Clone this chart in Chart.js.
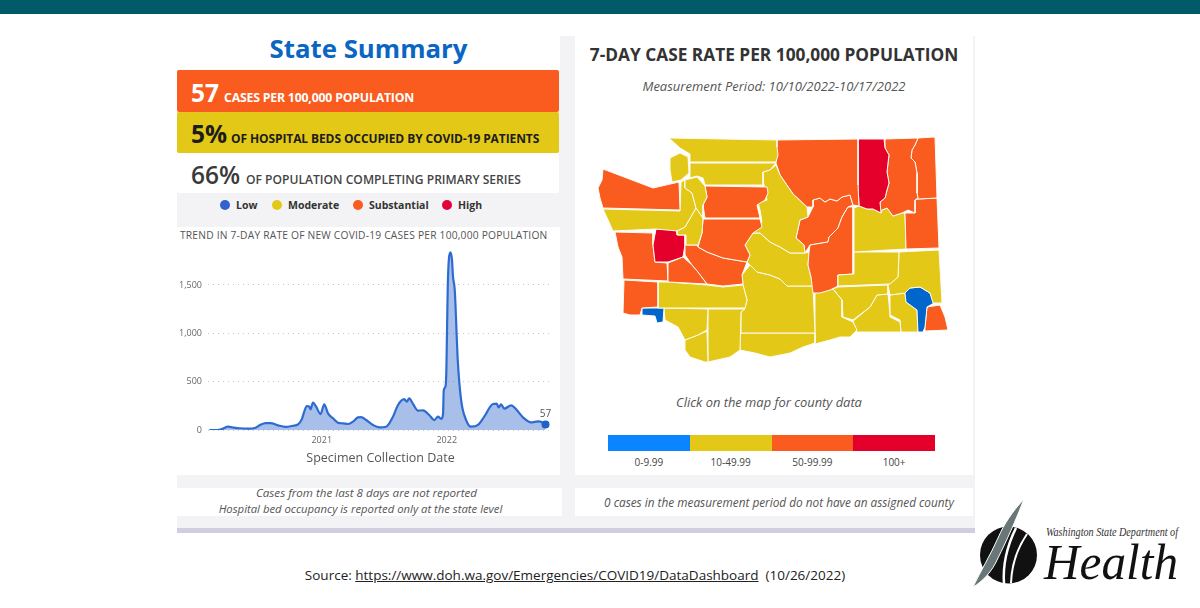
<!DOCTYPE html>
<html lang="en">
<head>
<meta charset="utf-8">
<title>State Summary</title>
<script src="https://cdn.jsdelivr.net/npm/chart.js@4"></script>
<style>
    html, body { margin: 0; width: 1200px; height: 608px; overflow: hidden; background: #fff; }
    body { position: relative; font-family: "Open Sans", sans-serif; color: #333; }
    .box, .txt, canvas, svg { position: absolute; display: block; }
    .txt { white-space: nowrap; line-height: 1; }
    .dot { position: absolute; width: 10px; height: 10px; border-radius: 50%; }
    .it { font-style: italic; color: #555; }
    .big { font-weight: 700; font-size: 24.5px; }
    .cap { font-weight: 700; font-size: 12px; }
</style>
</head>
<body>
<div class="box" style="left:0;top:0;width:1200px;height:14px;background:#005a68"></div>
<div class="box" style="left:177px;top:36px;width:798px;height:493px;background:#f3f2f4"></div>
<div class="box" style="left:177px;top:528px;width:798px;height:5px;background:#d0cfe0"></div>

<!-- left column -->
<div class="box" style="left:177px;top:36px;width:383px;height:34px;background:#fff"></div>
<div class="txt" style="left:177px;width:383px;top:36px;text-align:center;font-size:25.8px;font-weight:700;color:#0a66c2">State Summary</div>
<div class="box" style="left:177px;top:70px;width:382px;height:42px;background:#fa5b1e;border-radius:2px"></div>
<div class="box" style="left:177px;top:112px;width:382px;height:41px;background:#e3c817;border-radius:2px"></div>
<div class="box" style="left:177px;top:153px;width:382px;height:40px;background:#fff;border-radius:2px"></div>
<div class="txt big" style="left:191px;top:81px;color:#fff">57</div>
<div class="txt cap" style="left:224px;top:92px;color:#fff;font-size:12.3px;letter-spacing:-.2px">CASES PER 100,000 POPULATION</div>
<div class="txt big" style="left:191px;top:122px;color:#1c1c1c">5%</div>
<div class="txt cap" style="left:231px;top:133px;color:#1c1c1c;letter-spacing:-.1px">OF HOSPITAL BEDS OCCUPIED BY COVID-19 PATIENTS</div>
<div class="txt big" style="left:191px;top:163px;color:#3a3a3a;font-weight:600">66%</div>
<div class="txt cap" style="left:246px;top:174px;color:#444;font-weight:600;font-size:12.1px">OF POPULATION COMPLETING PRIMARY SERIES</div>

<div class="dot" style="left:220px;top:200px;background:#3560cf"></div>
<div class="txt" style="left:236px;top:200px;font-size:10.5px;font-weight:700">Low</div>
<div class="dot" style="left:272px;top:200px;background:#e3c817"></div>
<div class="txt" style="left:288px;top:200px;font-size:10.5px;font-weight:700">Moderate</div>
<div class="dot" style="left:353px;top:200px;background:#fa5b1e"></div>
<div class="txt" style="left:369px;top:200px;font-size:10.5px;font-weight:700">Substantial</div>
<div class="dot" style="left:442px;top:200px;background:#e4003a"></div>
<div class="txt" style="left:458px;top:200px;font-size:10.5px;font-weight:700">High</div>

<div class="box" style="left:177px;top:227px;width:383px;height:248px;background:#fff"></div>
<div class="txt" style="left:180px;top:230px;font-size:10.25px;color:#555;letter-spacing:.2px">TREND IN 7-DAY RATE OF NEW COVID-19 CASES PER 100,000 POPULATION</div>
<canvas id="trendChart" width="383" height="248" style="left:177px;top:227px"></canvas>

<div class="box" style="left:177px;top:488px;width:385px;height:28px;background:#fff"></div>
<div class="txt it" style="left:175px;width:383px;top:487px;text-align:center;font-size:11.6px">Cases from the last 8 days are not reported</div>
<div class="txt it" style="left:169px;width:383px;top:503px;text-align:center;font-size:11.3px">Hospital bed occupancy is reported only at the state level</div>

<!-- right column -->
<div class="box" style="left:575px;top:36px;width:398px;height:439px;background:#fff"></div>
<div class="txt" style="left:575px;width:398px;top:46px;text-align:center;font-size:17.3px;font-weight:700;color:#333">7-DAY CASE RATE PER 100,000 POPULATION</div>
<div class="txt it" style="left:575px;width:398px;top:80px;text-align:center;font-size:13px">Measurement Period: 10/10/2022-10/17/2022</div>
<canvas id="mapChart" width="365" height="240" style="left:590px;top:130px"></canvas>
<div class="txt it" style="left:570px;width:398px;top:396px;text-align:center;font-size:12.9px">Click on the map for county data</div>
<div id="bandKey"></div>

<div class="box" style="left:575px;top:488px;width:398px;height:28px;background:#fff"></div>
<div class="txt it" style="left:580px;width:398px;top:497px;text-align:center;font-size:11.8px">0 cases in the measurement period do not have an assigned county</div>

<div class="txt" style="left:0;width:1150px;top:569px;text-align:center;font-size:13.5px;color:#222">Source: <u>https://www.doh.wa.gov/Emergencies/COVID19/DataDashboard</u>&nbsp; (10/26/2022)</div>

<!-- department mark and wordmark -->
<svg style="left:970px;top:495px" width="230" height="100" viewBox="970 495 230 100">
    <circle cx="1008.5" cy="555" r="28.5" fill="#111"/>
    <path d="M1016 528 Q1002 556 1004 584" stroke="#fff" stroke-width="2.5" fill="none"/>
    <path d="M1027 534 Q1012 556 1011 583" stroke="#fff" stroke-width="2" fill="none"/>
    <path d="M1024 499 C1012 512 1004 524 998 538 C990 556 980 572 973 587 C982 582 992 572 998 558 C1006 542 1016 520 1024 499 Z" fill="#6a7778" stroke="#fff" stroke-width="1"/>
    <text x="1046" y="536" font-family="Liberation Serif" font-style="italic" font-size="11.5" textLength="132" lengthAdjust="spacingAndGlyphs" fill="#333">Washington State Department of</text>
    <text x="1044" y="579" font-family="Liberation Serif" font-style="italic" font-size="50" textLength="134" lengthAdjust="spacingAndGlyphs" fill="#111">Health</text>
</svg>

<script>
    const bandLabels = ['0-9.99', '10-49.99', '50-99.99', '100+'];
    const bandColors = ['#0b84ff', '#e3c817', '#fa5b1e', '#e4002b'];
    const mapBandColors = ['#0066cc', '#e3c817', '#fa5b1e', '#e4002b'];

    // samples of the statewide rate, in fractional years
    const sampleYears = [
        2020.10, 2020.17, 2020.19, 2020.21, 2020.25, 2020.29, 2020.34, 2020.41, 2020.47, 2020.51,
        2020.55, 2020.59, 2020.65, 2020.71, 2020.77, 2020.81, 2020.84, 2020.86, 2020.88, 2020.90,
        2020.91, 2020.93, 2020.955, 2020.99, 2021.02, 2021.05, 2021.09, 2021.13, 2021.17, 2021.21,
        2021.25, 2021.29, 2021.315, 2021.355, 2021.41, 2021.46, 2021.515, 2021.57, 2021.61, 2021.66,
        2021.68, 2021.70, 2021.73, 2021.77, 2021.81, 2021.86, 2021.90, 2021.93, 2021.955, 2021.97,
        2021.976, 2021.99, 2021.997, 2022.008, 2022.018, 2022.03, 2022.042, 2022.05, 2022.064, 2022.088,
        2022.115, 2022.155, 2022.195, 2022.25, 2022.30, 2022.37, 2022.40, 2022.415, 2022.435, 2022.46,
        2022.515, 2022.555, 2022.61, 2022.675, 2022.73, 2022.77, 2022.79,
    ];
    const caseRates = [
        0, 0, 5, 14, 34, 26, 18, 14, 24, 55,
        72, 72, 48, 32, 44, 58, 110, 190, 248, 241,
        214, 283, 241, 165, 265, 172, 121, 76, 69, 62,
        86, 131, 134, 103, 52, 28, 34, 138, 259, 320,
        293, 328, 269, 200, 203, 155, 103, 138, 115, 160,
        410, 450, 620, 1483, 1780, 1838, 1760, 1586, 1448, 724,
        310, 103, 34, 52, 138, 269, 272, 234, 265, 221,
        255, 214, 131, 79, 90, 76, 57,
    ];
    const yTicks = [0, 500, 1000, 1500];
    const xTicks = [2021, 2022];

    const countyNames = [
        'San Juan', 'Whatcom', 'Skagit', 'Island', 'Clallam', 'Jefferson', 'Kitsap', 'Snohomish', 'King',
        'Chelan', 'Okanogan', 'Ferry', 'Stevens', 'Pend Oreille', 'Spokane', 'Lincoln', 'Adams', 'Whitman',
        'Grant', 'Douglas', 'Kittitas', 'Pierce', 'Lewis', 'Thurston', 'Grays Harbor', 'Pacific', 'Cowlitz',
        'Wahkiakum', 'Skamania', 'Clark', 'Klickitat', 'Yakima', 'Benton', 'Walla Walla', 'Franklin',
        'Columbia', 'Garfield', 'Asotin', 'Mason',
    ];
    // index into bandColors for each county
    const countyBands = [
        1, 1, 1, 1, 2, 1, 1, 2, 2,
        1, 2, 3, 2, 2, 2, 1, 1, 1,
        2, 2, 1, 2, 2, 3, 2, 2, 1,
        0, 1, 1, 1, 1, 1, 1, 1,
        1, 0, 2, 1,
    ];
    // county outlines as [x, y] pairs in map units
    const countyOutlines = [
        [[670,158],[680,153],[688,157],[689,173],[681,180],[672,182],[670,170]],
        [[669,138],[777,140],[777,147],[778,155],[776,162],[690,162],[690,154],[680,148]],
        [[690,163],[776,163],[770,170],[763,172],[763,185],[705,185],[703,178],[697,176],[690,178]],
        [[685,180],[697,177],[705,186],[707,197],[703,205],[703,218],[696,208],[692,193],[685,188]],
        [[603,169],[653,188],[679,182],[680,210],[603,208],[600,198],[598,188],[602,180]],
        [[603,209],[680,211],[681,182],[685,180],[685,188],[692,193],[696,208],[685,227],[677,231],[656,229],[613,231],[609,222]],
        [[696,208],[703,218],[703,219],[702,233],[698,245],[686,245],[686,235],[678,235],[677,231],[685,227]],
        [[705,186],[767,187],[768,193],[765,200],[757,205],[760,218],[705,218],[703,205],[707,197]],
        [[703,219],[760,219],[762,227],[753,233],[745,245],[750,255],[747,262],[723,258],[715,255],[707,252],[698,247],[702,233]],
        [[776,165],[780,175],[793,194],[807,207],[808,217],[800,220],[796,238],[804,245],[805,253],[790,253],[780,247],[770,242],[760,233],[753,233],[762,222],[760,210],[758,203],[767,200],[765,190],[763,180],[763,172],[770,170]],
        [[775,140],[858,139],[858,185],[859,206],[853,205],[850,195],[842,197],[837,201],[830,199],[825,202],[820,198],[813,200],[813,207],[807,207],[793,194],[780,175],[776,163],[776,150]],
        [[858,139],[884,139],[885,148],[889,155],[888,163],[887,172],[889,183],[887,190],[885,198],[880,202],[881,213],[873,209],[867,209],[859,206],[858,185]],
        [[885,139],[918,138],[915,145],[912,150],[911,158],[915,162],[917,173],[917,193],[918,198],[915,200],[915,213],[908,210],[902,213],[893,216],[887,208],[882,210],[881,213],[880,202],[885,198],[887,190],[889,183],[887,172],[888,163],[889,155],[885,148]],
        [[918,138],[935,137],[937,198],[918,199],[917,193],[917,173],[915,162],[911,158],[912,150],[915,145]],
        [[918,199],[937,198],[939,248],[906,249],[905,213],[915,213],[915,200]],
        [[854,208],[859,206],[867,209],[873,209],[881,213],[882,210],[887,208],[893,216],[902,213],[905,213],[906,249],[854,252]],
        [[854,252],[899,252],[898,277],[890,284],[838,286],[838,275],[854,274]],
        [[899,252],[939,250],[942,303],[933,303],[930,293],[920,287],[910,288],[905,293],[890,295],[888,285],[898,277]],
        [[853,207],[853,274],[838,275],[838,286],[830,290],[820,293],[813,293],[811,277],[808,265],[809,252],[810,245],[828,242],[829,237],[838,228],[842,217],[848,207]],
        [[813,207],[813,200],[820,198],[825,202],[830,199],[837,201],[842,197],[850,195],[853,205],[848,207],[842,217],[838,228],[829,237],[828,242],[810,245],[805,253],[804,245],[796,238],[800,220],[808,217]],
        [[753,233],[745,245],[750,255],[747,262],[750,265],[757,272],[770,275],[780,279],[787,286],[813,286],[811,277],[808,265],[809,252],[805,253],[790,253],[780,247],[770,242],[760,233]],
        [[685,245],[697,245],[698,247],[707,252],[715,255],[723,258],[747,262],[742,275],[743,284],[723,286],[707,284],[698,272],[692,265],[685,255]],
        [[668,263],[683,257],[692,265],[698,272],[707,284],[668,282]],
        [[656,229],[677,230],[677,235],[685,235],[685,245],[683,257],[668,262],[655,262],[653,245]],
        [[615,232],[653,233],[653,245],[655,262],[667,263],[668,281],[623,279],[622,257],[618,247]],
        [[624,280],[658,282],[658,307],[642,308],[640,315],[630,315],[623,313]],
        [[658,282],[668,282],[707,285],[723,287],[743,285],[747,300],[745,308],[658,308]],
        [[642,308],[664,308],[663,322],[657,323],[655,316],[642,315]],
        [[664,308],[708,309],[707,330],[698,335],[685,340],[678,327],[665,320]],
        [[685,340],[698,335],[707,331],[708,362],[705,362],[690,357],[685,350]],
        [[708,309],[745,309],[741,312],[740,350],[730,357],[708,362]],
        [[750,265],[757,272],[770,275],[780,279],[787,286],[813,286],[815,333],[741,333],[741,312],[745,308],[747,300],[743,285],[742,275]],
        [[740,333],[815,333],[815,343],[803,347],[790,353],[770,357],[755,353],[740,350]],
        [[815,293],[833,289],[842,300],[842,317],[853,322],[857,330],[850,337],[840,337],[830,340],[815,344]],
        [[838,287],[888,285],[888,294],[877,295],[870,307],[853,320],[843,317],[842,300],[833,289]],
        [[853,321],[870,307],[877,295],[888,294],[889,303],[890,317],[900,322],[901,332],[857,332]],
        [[910,288],[920,287],[930,293],[934,303],[927,307],[925,327],[923,332],[918,332],[917,310],[906,302],[905,293]],
        [[927,307],[940,305],[945,317],[948,330],[925,331],[925,327]],
        [[890,295],[905,293],[906,302],[917,310],[918,332],[901,332],[900,320],[890,315]],
    ];

    const renderBandKey = () => {
        const key = document.getElementById('bandKey');
        bandLabels.forEach((label, i) => {
            const left = 608 + i * 81.75;
            key.insertAdjacentHTML('beforeend',
                `<div class="box" style="left:${left}px;top:435px;width:81.75px;height:16px;background:${bandColors[i]}"></div>` +
                `<div class="txt" style="left:${left}px;width:81.75px;top:457px;text-align:center;font-size:10px;color:#444">${label}</div>`);
        });
    };

    // writes the latest rate just above the last point
    const lastValueLabel = {
        id: 'lastValueLabel',
        afterDatasetsDraw(chart) {
            const point = chart.getDatasetMeta(0).data[caseRates.length - 1];
            const { ctx } = chart;
            ctx.save();
            ctx.font = '10px "Open Sans"';
            ctx.fillStyle = '#555';
            ctx.textAlign = 'center';
            ctx.fillText(String(caseRates[caseRates.length - 1]), point.x, point.y - 7);
            ctx.restore();
        },
    };

    const renderTrendChart = () => {
        new Chart(document.getElementById('trendChart'), {
            type: 'line',
            data: {
                datasets: [{
                    data: sampleYears.map((x, i) => ({ x, y: caseRates[i] })),
                    borderColor: '#2e6bd0',
                    borderWidth: 2.2,
                    backgroundColor: 'rgba(62, 112, 208, 0.45)',
                    fill: 'origin',
                    cubicInterpolationMode: 'monotone',
                    pointRadius: (c) => (c.dataIndex === caseRates.length - 1 ? 4 : 0),
                    pointBackgroundColor: '#1f62c8',
                    pointBorderWidth: 0,
                }],
            },
            options: {
                responsive: false,
                animation: false,
                layout: { padding: { top: 19.3, right: 7, left: 0, bottom: 0 } },
                plugins: { legend: { display: false }, tooltip: { enabled: false } },
                scales: {
                    x: {
                        type: 'linear',
                        min: 2020.09,
                        max: 2022.85,
                        afterBuildTicks: (axis) => { axis.ticks = xTicks.map((value) => ({ value })); },
                        afterFit: (axis) => { axis.height = 45; },
                        grid: { display: false, drawTicks: false },
                        border: { display: false },
                        ticks: {
                            autoSkip: false,
                            maxRotation: 0,
                            padding: 5,
                            color: '#666',
                            font: { family: 'Open Sans', size: 9 },
                            callback: (value) => String(value),
                        },
                        title: {
                            display: true,
                            text: 'Specimen Collection Date',
                            color: '#555',
                            padding: { top: 0, bottom: 9 },
                            font: { family: 'Open Sans', size: 12.5 },
                        },
                    },
                    y: {
                        min: 0,
                        max: 1900,
                        afterBuildTicks: (axis) => { axis.ticks = yTicks.map((value) => ({ value })); },
                        afterFit: (axis) => { axis.width = 31; },
                        grid: { color: '#c8c8c8', lineWidth: 1, drawTicks: false },
                        border: { display: false, dash: [1, 4] },
                        ticks: {
                            padding: 6,
                            color: '#666',
                            font: { family: 'Open Sans', size: 9 },
                            callback: (value) => value.toLocaleString('en-US'),
                        },
                    },
                },
            },
            plugins: [lastValueLabel],
        });
    };

    const renderMapChart = () => {
        new Chart(document.getElementById('mapChart'), {
            type: 'scatter',
            data: {
                datasets: countyOutlines.map((outline, i) => ({
                    label: countyNames[i],
                    data: outline.concat([outline[0]]).map(([x, y]) => ({ x, y })),
                    showLine: true,
                    fill: 'shape',
                    backgroundColor: mapBandColors[countyBands[i]],
                    borderColor: '#fdfbf2',
                    borderWidth: 1,
                    pointRadius: 0,
                })),
            },
            options: {
                responsive: false,
                animation: false,
                layout: { padding: 0 },
                plugins: { legend: { display: false }, tooltip: { enabled: false } },
                scales: {
                    x: { type: 'linear', display: false, min: 590, max: 955 },
                    y: { type: 'linear', display: false, reverse: true, min: 130, max: 370 },
                },
            },
        });
    };

    renderBandKey();
    renderTrendChart();
    renderMapChart();
</script>
</body>
</html>
